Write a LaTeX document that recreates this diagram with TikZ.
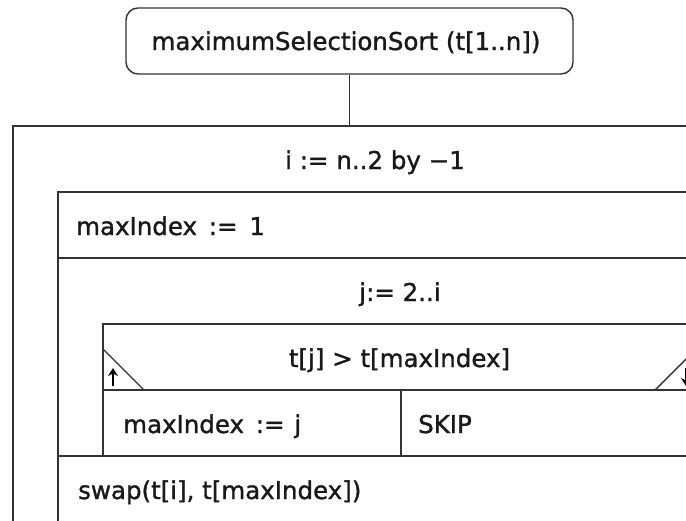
\documentclass[tikz,border=0pt]{standalone}
\usepackage{fontspec}
\setmainfont{DejaVu Sans}
\newfontfamily\nsfont{DejaVu Sans}[FakeBold=1.2]
\usetikzlibrary{arrows.meta}
\tikzset{
  ns/.style={line width=1.4pt, draw=black!80},
  lbl/.style={font=\nsfont\fontsize{24.5}{29}\selectfont, inner sep=0pt, text=black!90},
  titlebox/.style={ns, rounded corners=12pt, minimum width=447pt, minimum height=66pt, inner sep=0pt},
  looparrow/.style={line width=1.8pt, draw=black, -{Stealth[length=8pt,width=10pt]}}
}
\begin{document}
\begin{tikzpicture}[x=1pt,y=-1pt]
  \useasboundingbox (0,0) rectangle (686,520);
  \fill[white] (0,0) rectangle (686,520);
  \clip (0,0) rectangle (686,520);

  % procedure header
  \node[titlebox] (title) at (349.5,41) {};
  \node[lbl, anchor=base] (titletext) at (346,50) {maximumSelectionSort (t[1..n])};
  \coordinate (outertop) at (title.south |- 0,126);
  \draw[ns] (title.south) -- (outertop);

  % outer loop over i
  \draw[ns] (13,540) -- (13,126) -- (780,126);
  \node[lbl, anchor=base] (iloop) at (375,169) {i := n..2 by −1};

  % body of the outer loop
  \draw[ns] (58,540) -- (58,192) -- (780,192);
  \node[lbl, anchor=base west] (init) at (76,235) {maxIndex\hspace{4pt} :=\hspace{4pt} 1};
  \draw[ns] (58,258) -- (780,258);

  % inner loop over j
  \node[lbl, anchor=base] (jloop) at (400,301) {j:= 2..i};
  \draw[ns] (103,456) -- (103,324) -- (780,324);

  % condition block
  \node[lbl, anchor=base] (cond) at (399.5,367) {t[j] > t[maxIndex]};
  \draw[ns] (103,349) -- (144,390);
  \draw[ns] (655,390) -- (696,349);
  \draw[looparrow] (113,386) -- (113,368);
  \draw[looparrow] (686,368) -- (686,386);
  \draw[ns] (103,390) -- (780,390);
  \draw[ns] (401,390) -- (401,456);
  \node[lbl, anchor=base west] (thenbr) at (123,433) {maxIndex\hspace{4pt} :=\hspace{2pt} j};
  \node[lbl, anchor=base west] (elsebr) at (418,433) {SKIP};

  % after the inner loop
  \draw[ns] (58,456) -- (780,456);
  \node[lbl, anchor=base west] (swap) at (78,499) {swap(t[i], t[maxIndex])};
\end{tikzpicture}
\end{document}
